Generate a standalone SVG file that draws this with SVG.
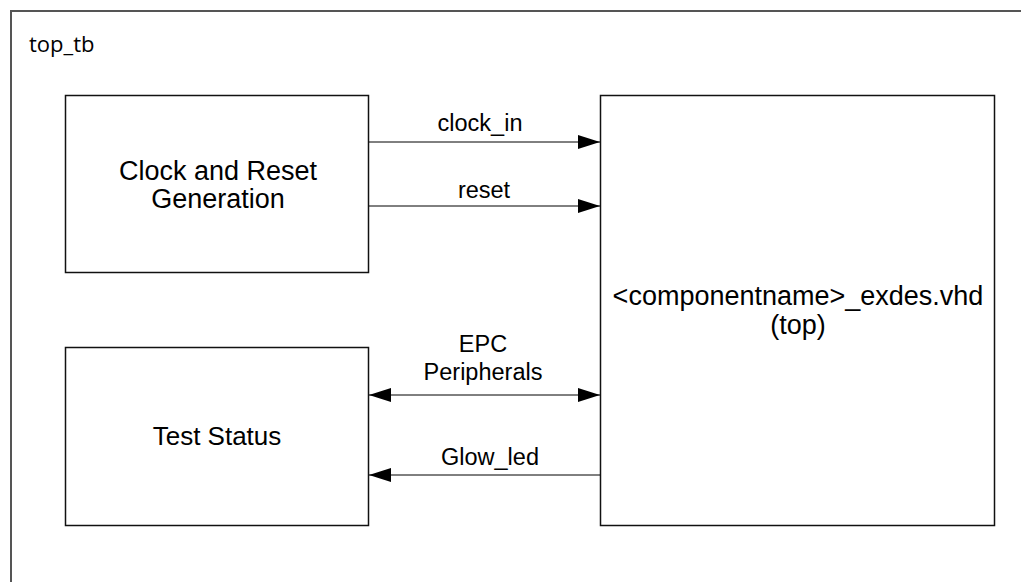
<svg xmlns="http://www.w3.org/2000/svg" width="1021" height="582" viewBox="0 0 1021 582">
<style>
.frame{fill:none;stroke:#555;stroke-width:2}
.box{fill:#fff;stroke:#111;stroke-width:1.5}
.lbl{font-family:"Liberation Sans",Arial,sans-serif;font-size:27px;fill:#000;text-anchor:middle}
.cl{font-family:"Liberation Sans",Arial,sans-serif;font-size:23.5px;fill:#000;text-anchor:middle}
.title{font-family:"Open Sans","Noto Sans",sans-serif;font-size:22px;fill:#000}
.wire{stroke:#000;stroke-width:1;fill:none}
</style>
<defs>
<marker id="ah" viewBox="0 0 22 14" refX="22" refY="7" markerWidth="22" markerHeight="14" markerUnits="userSpaceOnUse" orient="auto-start-reverse">
<path d="M0,0 L22,7 L0,14 Z" fill="#000"/>
</marker>
</defs>
<g id="frame">
<path class="frame" d="M11,582 L11,11 L1021,11"/>
<text class="title" x="29" y="52">top_tb</text>
</g>
<g id="clock_reset">
<rect class="box" x="65.5" y="95.5" width="303" height="177"/>
<text class="lbl" x="218" y="180">Clock and Reset</text>
<text class="lbl" x="218" y="208">Generation</text>
</g>
<g id="test_status">
<rect class="box" x="65.5" y="347.5" width="303" height="178"/>
<text class="lbl" x="217" y="445" style="font-size:26px">Test Status</text>
</g>
<g id="top">
<rect class="box" x="600.5" y="95.5" width="394" height="430"/>
<text class="lbl" x="798" y="305">&lt;componentname&gt;_exdes.vhd</text>
<text class="lbl" x="798" y="334">(top)</text>
</g>
<g id="connectors">
<path class="wire" d="M369,142 L600,142" marker-end="url(#ah)"/>
<text class="cl" x="480" y="131">clock_in</text>
<path class="wire" d="M369,206 L600,206" marker-end="url(#ah)"/>
<text class="cl" x="484" y="198">reset</text>
<path class="wire" d="M369,395 L600,395" marker-start="url(#ah)" marker-end="url(#ah)"/>
<text class="cl" x="483" y="352">EPC</text>
<text class="cl" x="483" y="380">Peripherals</text>
<path class="wire" d="M600,475 L369,475" marker-end="url(#ah)"/>
<text class="cl" x="490" y="465">Glow_led</text>
</g>
</svg>
